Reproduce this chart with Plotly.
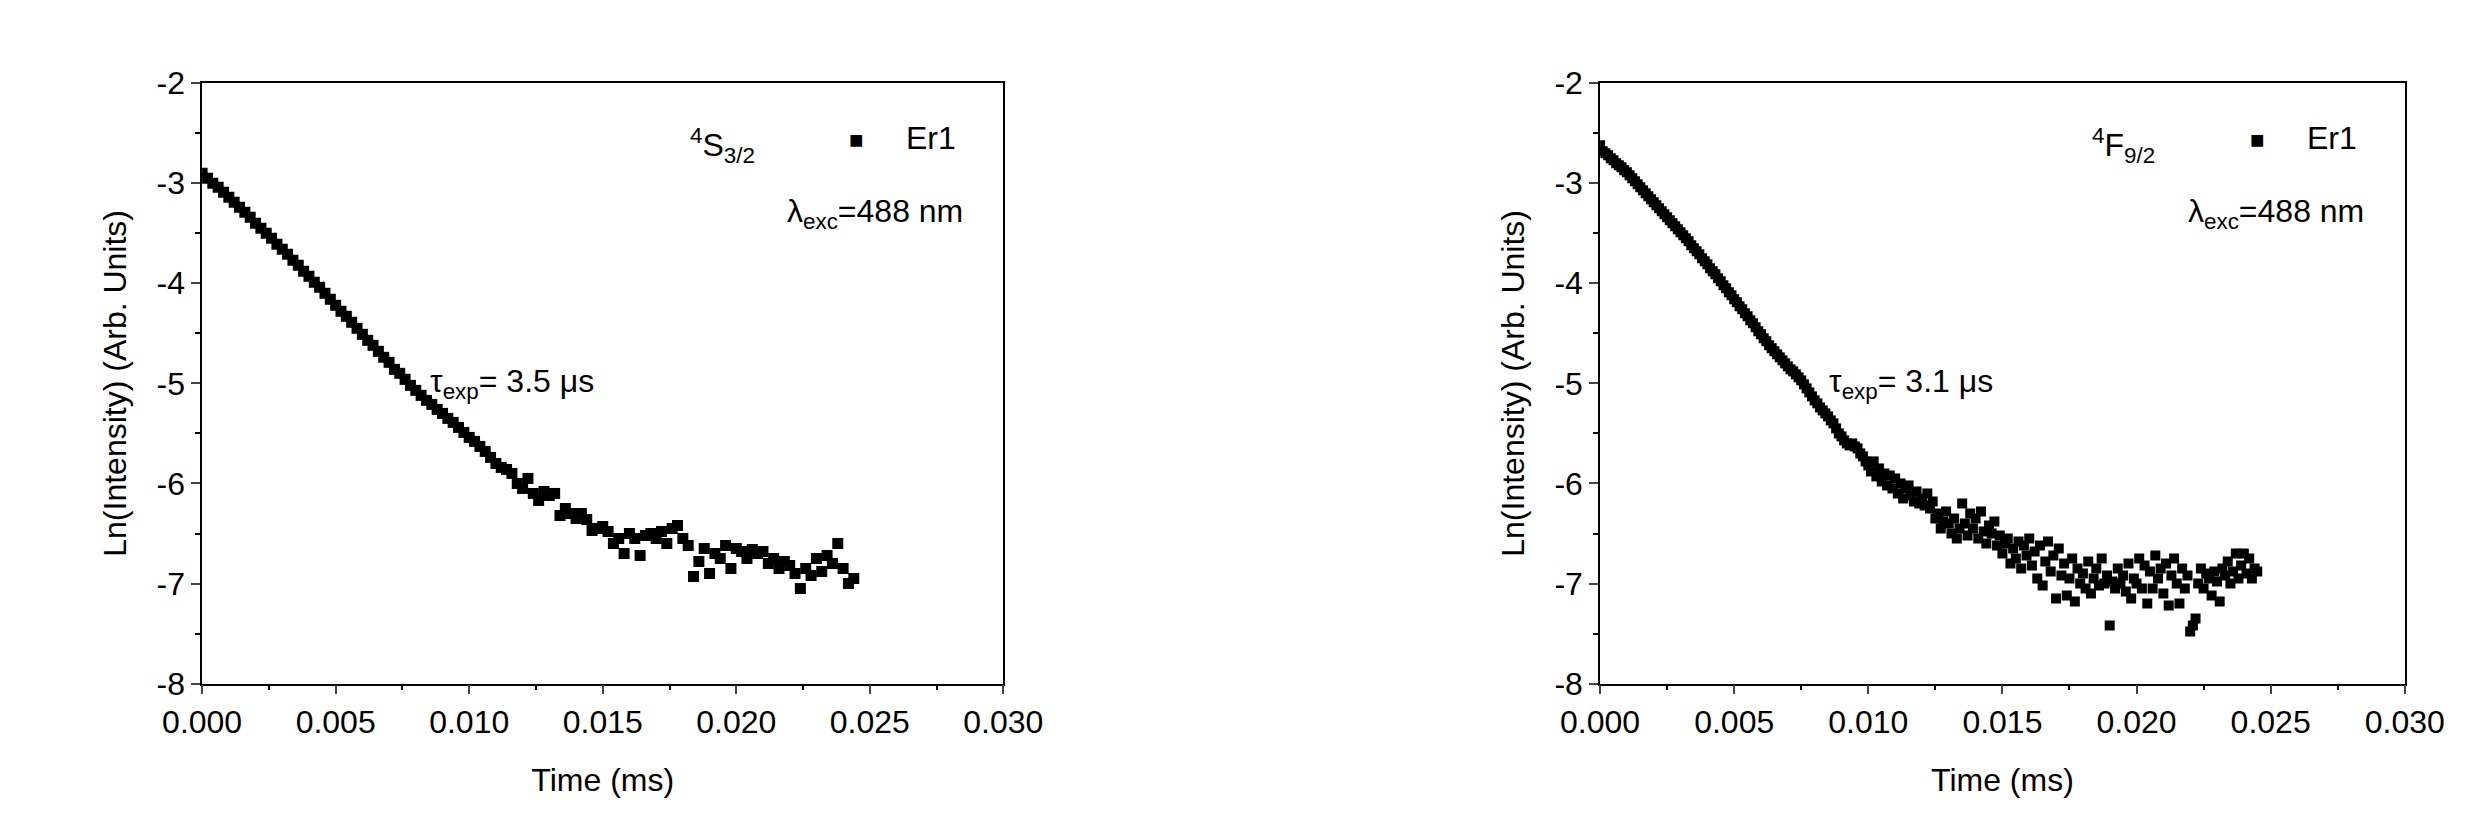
import plotly.graph_objects as go

step_left = 0.0002
ln_left = [-2.90,-2.95,-3.00,-3.04,-3.09,-3.14,-3.19,-3.24,-3.29,-3.34,
-3.40,-3.45,-3.50,-3.55,-3.61,-3.66,-3.71,-3.77,-3.82,-3.88,
-3.93,-3.99,-4.04,-4.10,-4.16,-4.22,-4.28,-4.33,-4.39,-4.45,
-4.51,-4.57,-4.62,-4.68,-4.74,-4.79,-4.86,-4.90,-4.96,-5.02,
-5.07,-5.12,-5.17,-5.21,-5.26,-5.30,-5.35,-5.39,-5.44,-5.49,
-5.54,-5.58,-5.63,-5.68,-5.74,-5.80,-5.84,-5.86,-5.90,-6.00,
-6.05,-5.95,-6.10,-6.17,-6.08,-6.12,-6.10,-6.32,-6.25,-6.30,
-6.35,-6.30,-6.36,-6.47,-6.45,-6.43,-6.48,-6.60,-6.55,-6.70,
-6.50,-6.55,-6.72,-6.52,-6.50,-6.55,-6.48,-6.60,-6.45,-6.42,
-6.55,-6.62,-6.93,-6.78,-6.65,-6.90,-6.70,-6.75,-6.62,-6.85,
-6.65,-6.68,-6.75,-6.66,-6.70,-6.68,-6.80,-6.75,-6.85,-6.78,
-6.82,-6.90,-7.05,-6.85,-6.92,-6.75,-6.88,-6.72,-6.80,-6.60,
-6.85,-7.00,-6.95]

step_right = 0.0001
ln_right = [-2.62,-2.68,-2.70,-2.72,-2.75,-2.77,-2.80,-2.82,-2.84,-2.87,
-2.89,-2.92,-2.95,-2.98,-3.01,-3.04,-3.07,-3.10,-3.13,-3.16,
-3.19,-3.22,-3.25,-3.28,-3.31,-3.34,-3.37,-3.40,-3.43,-3.46,
-3.49,-3.52,-3.55,-3.58,-3.62,-3.65,-3.68,-3.71,-3.75,-3.78,
-3.81,-3.85,-3.88,-3.91,-3.95,-3.98,-4.02,-4.05,-4.09,-4.12,
-4.16,-4.19,-4.23,-4.26,-4.30,-4.33,-4.37,-4.40,-4.44,-4.48,
-4.51,-4.55,-4.58,-4.62,-4.65,-4.68,-4.71,-4.74,-4.77,-4.80,
-4.83,-4.86,-4.88,-4.91,-4.94,-4.97,-5.01,-5.05,-5.09,-5.13,
-5.17,-5.20,-5.24,-5.27,-5.30,-5.33,-5.37,-5.40,-5.45,-5.50,
-5.53,-5.57,-5.60,-5.62,-5.60,-5.63,-5.65,-5.70,-5.73,-5.78,
-5.82,-5.88,-5.78,-5.93,-5.85,-5.98,-5.90,-6.02,-5.92,-6.05,
-5.95,-6.10,-6.00,-6.15,-6.05,-6.02,-6.12,-6.18,-6.08,-6.20,
-6.15,-6.22,-6.10,-6.25,-6.18,-6.35,-6.30,-6.45,-6.38,-6.28,
-6.40,-6.50,-6.35,-6.55,-6.45,-6.20,-6.40,-6.52,-6.30,-6.45,
-6.35,-6.55,-6.28,-6.48,-6.60,-6.42,-6.50,-6.38,-6.62,-6.52,
-6.70,-6.60,-6.55,-6.80,-6.65,-6.75,-6.58,-6.85,-6.62,-6.72,
-6.55,-6.82,-6.68,-6.95,-6.62,-7.02,-6.78,-6.58,-6.88,-6.72,
-7.15,-6.65,-6.92,-6.80,-7.12,-6.95,-6.75,-7.18,-6.85,-7.00,
-6.90,-7.05,-6.78,-7.10,-6.95,-6.85,-7.02,-6.75,-7.00,-6.92,
-7.42,-6.98,-7.05,-6.85,-7.00,-6.92,-7.08,-6.80,-7.15,-6.95,
-7.00,-6.75,-7.05,-6.82,-7.20,-6.88,-7.05,-6.72,-6.95,-6.85,
-7.10,-6.80,-7.22,-6.92,-6.75,-7.00,-7.20,-6.85,-7.05,-6.92,
-7.48,-7.42,-7.35,-7.00,-6.85,-7.05,-6.90,-6.95,-7.12,-6.88,
-6.98,-7.18,-6.85,-6.92,-6.78,-7.00,-6.88,-6.70,-6.95,-6.82,
-6.70,-6.90,-6.75,-6.95,-6.85,-6.88]

t_left = [i * step_left for i in range(len(ln_left))]
t_right = [i * step_right for i in range(len(ln_right))]

x_ticks = [0.000, 0.005, 0.010, 0.015, 0.020, 0.025, 0.030]
x_ticktext = ["0.000", "0.005", "0.010", "0.015", "0.020", "0.025", "0.030"]
y_ticks = [-8, -7, -6, -5, -4, -3, -2]
y_ticktext = ["-8", "-7", "-6", "-5", "-4", "-3", "-2"]

levels = ["<sup>4</sup>S<sub>3/2</sub>", "<sup>4</sup>F<sub>9/2</sub>"]
taus = ["τ<sub>exp</sub>= 3.5 μs", "τ<sub>exp</sub>= 3.1 μs"]

FONT = "Liberation Sans, Arial"
fig = go.Figure()
fig.add_trace(go.Scatter(x=t_left, y=ln_left, mode="markers", xaxis="x", yaxis="y",
                         marker=dict(symbol="square", size=11, color="black"), showlegend=False))
fig.add_trace(go.Scatter(x=t_right, y=ln_right, mode="markers", xaxis="x2", yaxis="y2",
                         marker=dict(symbol="square", size=10, color="black"), showlegend=False))

ax = dict(range=[0, 0.030], tickvals=x_ticks, ticktext=x_ticktext, ticks="outside", ticklen=9,
          tickwidth=1.5, showline=True, linewidth=1.5, linecolor="black", mirror=True,
          showgrid=False, zeroline=False, automargin=False,
          tickfont=dict(size=32, family=FONT, color="black"),
          title=dict(text="Time (ms)", font=dict(size=32, family=FONT, color="black"), standoff=30),
          minor=dict(dtick=0.0025, ticks="outside", ticklen=5, tickcolor="black"))
ay = dict(range=[-8, -2], tickvals=y_ticks, ticktext=y_ticktext, ticks="outside", ticklen=9, tickwidth=1.5,
          showline=True, linewidth=1.5, linecolor="black", mirror=True, showgrid=False,
          zeroline=False, automargin=False, tickfont=dict(size=32, family=FONT, color="black"),
          title=dict(text="Ln(Intensity) (Arb. Units)", font=dict(size=32, family=FONT, color="black"), standoff=20),
          minor=dict(dtick=0.5, ticks="outside", ticklen=5, tickcolor="black"))

fig.update_layout(
    width=2476, height=816, paper_bgcolor="white", plot_bgcolor="white",
    margin=dict(l=0, r=0, t=0, b=0),
    xaxis=dict(ax, domain=[0.0784, 0.402], anchor="y"),
    yaxis=dict(ay, domain=[0.172, 0.908], anchor="x"),
    xaxis2=dict(ax, domain=[0.643, 0.968], anchor="y2"),
    yaxis2=dict(ay, domain=[0.172, 0.908], anchor="x2"),
)

afont = dict(size=32, family=FONT, color="black")
for i, (xr, yr) in enumerate([("x", "y"), ("x2", "y2")]):
    fig.add_annotation(x=0.0195, y=-2.62, xref=xr, yref=yr, text=levels[i], showarrow=False, font=afont)
    fig.add_annotation(x=0.0245, y=-2.55, xref=xr, yref=yr, text="■", showarrow=False,
                       font=dict(size=24, color="black"))
    fig.add_annotation(x=0.0273, y=-2.55, xref=xr, yref=yr, text="Er1", showarrow=False, font=afont)
    fig.add_annotation(x=0.0252, y=-3.3, xref=xr, yref=yr, text="λ<sub>exc</sub>=488 nm", showarrow=False, font=afont)
    fig.add_annotation(x=0.0116, y=-5.0, xref=xr, yref=yr, text=taus[i], showarrow=False, font=afont)

fig.write_html("out.html")
